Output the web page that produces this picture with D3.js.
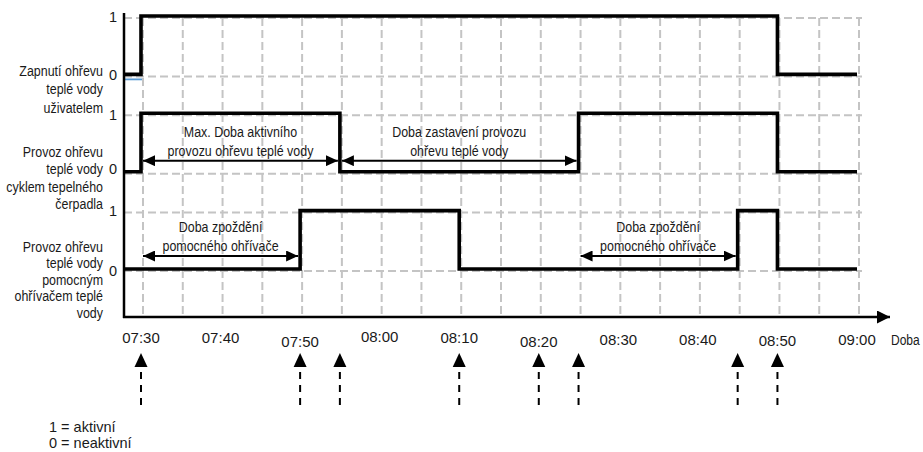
<!DOCTYPE html>
<html><head><meta charset="utf-8">
<script src="https://cdn.jsdelivr.net/npm/d3@7"></script>
<style>
body{margin:0;background:#fff}
svg{display:block}
.nar{font-family:"Liberation Sans",Arial,sans-serif;font-size:15px;fill:#1a1a1a}
.reg{font-family:"Liberation Sans",Arial,sans-serif;font-size:15px;fill:#1a1a1a}
</style>
</head><body>
<svg id="c" width="923" height="452"></svg>
<script>
// ---------- data ----------
const rowNames = ["user", "heatpump", "auxiliary"];
const rowLabels = [
  ["Zapnutí ohřevu", "teplé vody", "uživatelem"],
  ["Provoz ohřevu", "teplé vody", "cyklem tepelného", "čerpadla"],
  ["Provoz ohřevu", "teplé vody", "pomocným", "ohřívačem teplé", "vody"]
];
const levelLabels = ["1", "0"];
const timeTicks = ["07:30", "07:40", "07:50", "08:00", "08:10", "08:20", "08:30", "08:40", "08:50", "09:00"];
const axisTitle = "Doba";
// [time of change, new value]; null = start of the axis
const seriesUser = [[null, 0], ["07:30", 1], ["08:50", 0], ["09:00", 0]];
const seriesHeatPump = [[null, 0], ["07:30", 1], ["07:55", 0], ["08:25", 1], ["08:50", 0], ["09:00", 0]];
const seriesAux = [[null, 0], ["07:50", 1], ["08:10", 0], ["08:45", 1], ["08:50", 0], ["09:00", 0]];
const annotRows = ["heatpump", "heatpump", "auxiliary", "auxiliary"];
const annotFrom = ["07:30", "07:55", "07:30", "08:25"];
const annotTo = ["07:55", "08:25", "07:50", "08:45"];
const annotText = [
  ["Max. Doba aktivního", "provozu ohřevu teplé vody"],
  ["Doba zastavení provozu", "ohřevu teplé vody"],
  ["Doba zpoždění", "pomocného ohřívače"],
  ["Doba zpoždění", "pomocného ohřívače"]
];
const eventTimes = ["07:30", "07:50", "07:55", "08:10", "08:20", "08:25", "08:45", "08:50"];
const legendLines = ["1 = aktivní", "0 = neaktivní"];

// ---------- layout ----------
const axisX = 124, axisY = 317, axisTop = 13, axisEnd = 890;
const squeeze = 0.83;
const parse = d3.timeParse("%H:%M");
const x = d3.scaleTime().domain([parse("07:30"), parse("09:00")]).range([141, 857]);
const band = d3.scaleBand().domain(rowNames).range([16, 269]).paddingInner(0.4);
const yOf = (row, v) => band(row) + (1 - v) * band.bandwidth();
const gridOff = 2;

const svg = d3.select("#c");
const defs = svg.append("defs");
defs.append("marker").attr("id", "ah").attr("viewBox", "0 0 12 11").attr("refX", 12).attr("refY", 5.5)
  .attr("markerWidth", 12).attr("markerHeight", 11).attr("markerUnits", "userSpaceOnUse")
  .attr("orient", "auto-start-reverse")
  .append("path").attr("d", "M0,0L12,5.5L0,11Z").attr("fill", "#000");
defs.append("marker").attr("id", "ahx").attr("viewBox", "0 0 13 13").attr("refX", 13).attr("refY", 6.5)
  .attr("markerWidth", 13).attr("markerHeight", 13).attr("markerUnits", "userSpaceOnUse")
  .attr("orient", "auto")
  .append("path").attr("d", "M0,0L13,6.5L0,13Z").attr("fill", "#000");

// narrow text block helper
function narrowText(ax, anchor, lines, y0, lh, size) {
  const g = svg.append("g").attr("transform", `translate(${ax},0) scale(${squeeze},1)`);
  const t = g.append("text").attr("class", "nar").attr("text-anchor", anchor);
  if (size) t.style("font-size", size);
  lines.forEach((l, j) => t.append("tspan").attr("x", 0).attr("y", y0 + j * lh).text(l));
  return g;
}

// grid
const gridTimes = d3.timeMinute.every(5).range(parse("07:30"), d3.timeMinute.offset(parse("09:00"), 1));
const grid = svg.append("g").attr("stroke", "#c4c4c4").attr("stroke-width", 2).attr("stroke-dasharray", "8,4").attr("fill", "none");
grid.selectAll("line.v").data(gridTimes).join("line").attr("class", "v")
  .attr("x1", d => x(d) + gridOff).attr("x2", d => x(d) + gridOff)
  .attr("y1", yOf("user", 1) + 2).attr("y2", axisY);
const levels = [];
rowNames.forEach(r => [1, 0].forEach(v => levels.push({ r, v })));
grid.selectAll("line.h").data(levels).join("line").attr("class", "h")
  .attr("x1", axisX).attr("x2", x(parse("09:00")) + 5)
  .attr("y1", d => yOf(d.r, d.v) + 2).attr("y2", d => yOf(d.r, d.v) + 2);

// blue baseline segment (user row, level 0)
svg.append("line").attr("x1", axisX).attr("x2", x(parse("07:30")) + 1)
  .attr("y1", yOf("user", 0) + 5).attr("y2", yOf("user", 0) + 5)
  .attr("stroke", "#5b9bd5").attr("stroke-width", 1.8);

// axes
svg.append("line").attr("x1", axisX).attr("x2", axisX).attr("y1", axisTop).attr("y2", axisY + 1)
  .attr("stroke", "#000").attr("stroke-width", 2.5);
svg.append("line").attr("x1", axisX - 1).attr("x2", axisEnd).attr("y1", axisY).attr("y2", axisY)
  .attr("stroke", "#000").attr("stroke-width", 2.5).attr("marker-end", "url(#ahx)");

// step series
const allSeries = [seriesUser, seriesHeatPump, seriesAux];
const line = d3.line().curve(d3.curveStepAfter);
allSeries.forEach((s, i) => {
  const pts = s.map(([t, v]) => [t === null ? axisX : x(parse(t)), yOf(rowNames[i], v)]);
  svg.append("path").attr("d", line(pts)).attr("fill", "none").attr("stroke", "#000")
    .attr("stroke-width", 3.6).attr("stroke-linejoin", "miter").attr("stroke-linecap", "butt");
});

// row labels
const labelTop = [76, 157, 252], labelLH = [18.5, 17.4, 16.5];
rowLabels.forEach((lines, i) => narrowText(103, "end", lines, labelTop[i], labelLH[i]));

// level labels
const levelDy = [[6, 6], [7, 2], [5, 7]];
rowNames.forEach((r, i) => {
  levelLabels.forEach((lab, j) => {
    svg.append("text").attr("class", "reg").style("font-size", "14.5px").attr("text-anchor", "end")
      .attr("x", 117).attr("y", yOf(r, +lab) + levelDy[i][j]).text(lab);
  });
});

// annotations with double arrows
annotText.forEach((lines, i) => {
  const r = annotRows[i];
  const x1 = x(parse(annotFrom[i])) + 2, x2 = x(parse(annotTo[i])) - 2;
  const ay = yOf(r, 0) - (i < 2 ? 11 : 13);
  svg.append("line").attr("x1", x1).attr("x2", x2).attr("y1", ay).attr("y2", ay)
    .attr("stroke", "#000").attr("stroke-width", 2)
    .attr("marker-start", "url(#ah)").attr("marker-end", "url(#ah)");
  narrowText((x1 + x2) / 2, "middle", lines, ay - 24, 19);
});

// time tick labels
const tickDy = [0, 0, 4, -1, 0, 4, 2, 2, 3, 2];
svg.selectAll("text.tick").data(timeTicks).join("text").attr("class", "reg tick")
  .attr("text-anchor", "middle").attr("x", d => x(parse(d)))
  .attr("y", (d, i) => 343 + tickDy[i]).text(d => d);
narrowText(891, "start", [axisTitle], 345, 0, "14.5px");

// event arrows
const ev = svg.append("g");
eventTimes.forEach(t => {
  const ex = x(parse(t));
  ev.append("path").attr("d", `M${ex - 6.5},367L${ex},353L${ex + 6.5},367Z`).attr("fill", "#000");
  ev.append("line").attr("x1", ex).attr("x2", ex).attr("y1", 372).attr("y2", 405)
    .attr("stroke", "#000").attr("stroke-width", 2).attr("stroke-dasharray", "7,6");
});

// legend
legendLines.forEach((l, i) => {
  svg.append("text").attr("class", "reg").style("font-size", "14.5px").attr("x", 49).attr("y", 432 + i * 16).text(l);
});
</script>
</body></html>
